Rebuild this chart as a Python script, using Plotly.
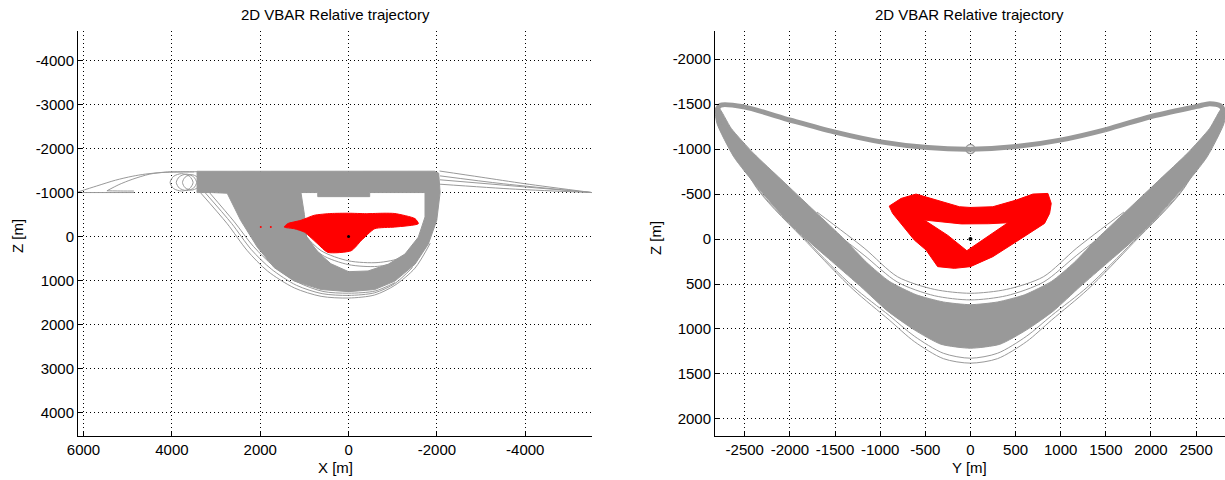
import plotly.graph_objects as go

GRAY = "rgb(153,153,153)"
RED = "rgb(255,0,0)"
FONT = "Liberation Sans, Arial, sans-serif"

# ---------------- Left panel (X-Z) ----------------
# dense grey region: outer contour, bridge, inner white hole (reverse direction), bridge back
L_dense_x = [3430, 2500, 1500, 500, -500, -1500, -1950, -2040, -2072, -1996, -1806, -1503, -1047, -592, 0,
             0, -440, -896, -1275, -1579, -1730, -1730, -478, -478, 698, 698, 1078, 1000, 950, 700, 400, 0,
             0, 622, 1230, 1685, 2064, 2444, 2748, 3100, 3430, 3430]
L_dense_z = [-1484, -1484, -1490, -1500, -1500, -1490, -1486, -1440, -1000, -369, 169, 631, 1015, 1207, 1255,
             800, 784, 631, 400, 15, -446, -1000, -1000, -907, -907, -1000, -1000, -500, 0, 350, 620, 800,
             1255, 1207, 1015, 707, 246, -369, -985, -1000, -1000, -1484]

# thin trajectory lines
L_arch_x = [6120, 5700, 5278, 4900, 4600, 4235, 3887, 3600, 3430]
L_arch_z = [-1016, -1150, -1281, -1370, -1420, -1455, -1465, -1470, -1475]
L_loop_x = [5470, 5200, 4900, 4500, 4100, 3800, 3500]
L_loop_z = [-1040, -1180, -1300, -1420, -1470, -1475, -1470]
L_spur_x = [5470, 5100, 4860]
L_spur_z = [-1040, -1035, -1035]
L_flat_x = [6120, 4850]
L_flat_z = [-1000, -1000]

L_ring1_x = [4040, 3960, 3780, 3600, 3520, 3600, 3780, 3960, 4040]
L_ring1_z = [-1230, -1370, -1430, -1370, -1230, -1090, -1035, -1090, -1230]
L_ring2_x = [3900, 3830, 3670, 3510, 3440, 3510, 3670, 3830, 3900]
L_ring2_z = [-1230, -1360, -1420, -1360, -1230, -1100, -1045, -1100, -1230]
L_ring3_x = [3760, 3700, 3560, 3420, 3360, 3420, 3560, 3700, 3760]
L_ring3_z = [-1230, -1350, -1410, -1350, -1230, -1110, -1055, -1110, -1230]

L_wedge1_x = [-2060, -3000, -4000, -5510]
L_wedge1_z = [-1490, -1350, -1200, -1000]
L_wedge2_x = [-2070, -3500, -5510]
L_wedge2_z = [-1380, -1200, -1000]
L_wedge3_x = [-2070, -3775, -5510]
L_wedge3_z = [-1190, -1077, -1000]
L_wedge4_x = [-2070, -5510]
L_wedge4_z = [-1290, -1000]

L_bo1_x = [3355, 2748, 2292, 1837, 1230, 622, 0, -592, -1047, -1503, -1850]
L_bo1_z = [-1000, -292, 323, 784, 1169, 1361, 1400, 1330, 1110, 720, 150]
L_bo2_x = [3250, 2650, 2200, 1750, 1180, 600, 0, -592, -1047, -1450]
L_bo2_z = [-1000, -300, 300, 740, 1110, 1300, 1340, 1280, 1070, 700]
L_bo3_x = [3150, 2600, 2150, 1700, 1150, 580, 0, -600, -1050]
L_bo3_z = [-1000, -350, 230, 670, 1040, 1250, 1290, 1240, 1050]

L_bi1_x = [1100, 622, 0, -668, -1199, -1579]
L_bi1_z = [-150, 323, 554, 592, 477, 169]
L_bi2_x = [1000, 600, 0, -650, -1150, -1500]
L_bi2_z = [0, 420, 640, 680, 560, 280]

# red blob
L_red_x = [1457, 1381, 1078, 774, 400, 0, -400, -800, -1047, -1503, -1579, -1047, -592, -288, -61, 470, 698, 1002, 1230, 1457]
L_red_z = [-215, -292, -369, -484, -523, -530, -520, -530, -523, -407, -292, -215, -177, 92, 323, 361, 169, -100, -177, -215]
L_reddots_x = [1988, 1760]
L_reddots_z = [-215, -215]

# ---------------- Right panel (Y-Z) ----------------
R_top_y = [-2826, -2770, -2511, -1993, -1511, -993, -474, 0, 474, 993, 1511, 1993, 2511, 2650, 2770, 2820]
R_top_z = [-1400, -1487, -1469, -1321, -1191, -1080, -1017, -999, -1025, -1100, -1220, -1360, -1475, -1505, -1480, -1400]

R_band_y = [-2826, -2808, -2622, -2363, -2104, -1808, -1511, -1215, -919, -622, -326, 0, 326, 622, 919, 1215, 1511,
            1808, 2104, 2363, 2622, 2808, 2826,
            2790, 2650, 2400, 2100, 1845, 1600, 1400, 1150, 900, 600, 300, 0, -300, -600, -900, -1150, -1400, -1600,
            -1845, -2100, -2400, -2650, -2790, -2826]
R_band_z = [-1432, -1284, -914, -581, -285, 11, 270, 529, 800, 1010, 1170, 1214, 1170, 1010, 800, 529, 270,
            11, -285, -581, -914, -1284, -1432,
            -1460, -1230, -950, -665, -423, -190, 0, 260, 470, 620, 700, 730, 700, 620, 470, 260, 0, -190,
            -423, -665, -950, -1230, -1460, -1432]

R_in1_y = [-1700, -1178, -807, -400, 0, 400, 807, 1178, 1700]
R_in1_z = [-300, 100, 420, 560, 603, 560, 420, 100, -300]
R_in2_y = [-1600, -1178, -807, -400, 0, 400, 807, 1178, 1600]
R_in2_z = [-150, 180, 480, 630, 677, 630, 480, 180, -150]
R_out1_y = [-2826, -2363, -1808, -1300, -900, -622, -300, 0, 300, 622, 900, 1300, 1808, 2363, 2820]
R_out1_z = [-1432, -560, 40, 560, 900, 1140, 1330, 1380, 1330, 1140, 900, 560, 40, -560, -1432]
R_out2_y = [-2826, -2363, -1808, -1300, -900, -622, -300, 0, 300, 622, 900, 1300, 1808, 2363, 2820]
R_out2_z = [-1432, -570, 25, 530, 850, 1080, 1270, 1325, 1270, 1080, 850, 530, 25, -570, -1432]

# red ring: outer contour, bridge, hole (reverse direction), bridge back
R_red_y = [-900, -770, -603, -381, -122, 0, 248, 507, 692, 858, 895, 877, 821, 507, 248, 0,
           -40, 415, 200, -100, -511, -250, -40,
           0, -178, -363, -492, -622, -862, -900]
R_red_z = [-366, -451, -500, -433, -359, -351, -359, -433, -500, -507, -396, -285, -174, 30, 196, 307,
           130, -181, -170, -168, -211, -40, 130,
           307, 326, 307, 122, 11, -285, -366]

R_start_y = [0]
R_start_z = [-1000]
ORIGIN = [0]

# tick labels
L_xticks = [6000, 4000, 2000, 0, -2000, -4000]
L_zticks = [-4000, -3000, -2000, -1000, 0, 1000, 2000, 3000, 4000]
R_yticks = [-2500, -2000, -1500, -1000, -500, 0, 500, 1000, 1500, 2000, 2500]
R_zticks = [-2000, -1500, -1000, -500, 0, 500, 1000, 1500, 2000]

fig = go.Figure()


def poly(x, y, color, xa, ya, shape="linear"):
    fig.add_trace(go.Scatter(x=x, y=y, mode="lines", fill="toself", fillcolor=color,
                             line=dict(color=color, width=1, shape=shape, smoothing=0.6),
                             xaxis=xa, yaxis=ya, hoverinfo="skip"))


def line(x, y, color, xa, ya, w=1):
    fig.add_trace(go.Scatter(x=x, y=y, mode="lines", line=dict(color=color, width=w, shape="spline", smoothing=0.8),
                             xaxis=xa, yaxis=ya, hoverinfo="skip"))


# left panel
for lx, lz in [(L_arch_x, L_arch_z), (L_loop_x, L_loop_z), (L_spur_x, L_spur_z), (L_flat_x, L_flat_z),
               (L_ring1_x, L_ring1_z), (L_ring2_x, L_ring2_z), (L_ring3_x, L_ring3_z),
               (L_wedge1_x, L_wedge1_z), (L_wedge2_x, L_wedge2_z), (L_wedge3_x, L_wedge3_z), (L_wedge4_x, L_wedge4_z),
               (L_bo1_x, L_bo1_z), (L_bo2_x, L_bo2_z), (L_bo3_x, L_bo3_z), (L_bi1_x, L_bi1_z), (L_bi2_x, L_bi2_z)]:
    line(lx, lz, GRAY, "x", "y")
poly(L_dense_x, L_dense_z, GRAY, "x", "y")
poly(L_red_x, L_red_z, RED, "x", "y", shape="spline")
fig.add_trace(go.Scatter(x=L_reddots_x, y=L_reddots_z, mode="markers", marker=dict(color=RED, size=2),
                         xaxis="x", yaxis="y", hoverinfo="skip"))
fig.add_trace(go.Scatter(x=ORIGIN, y=ORIGIN, mode="markers", marker=dict(color="black", size=3),
                         xaxis="x", yaxis="y", hoverinfo="skip"))

# right panel
poly(R_band_y, R_band_z, GRAY, "x2", "y2", shape="spline")
for ly, lz in [(R_in1_y, R_in1_z), (R_in2_y, R_in2_z), (R_out1_y, R_out1_z), (R_out2_y, R_out2_z)]:
    line(ly, lz, GRAY, "x2", "y2")
line(R_top_y, R_top_z, GRAY, "x2", "y2", w=5)
fig.add_trace(go.Scatter(x=R_start_y, y=R_start_z, mode="markers",
                         marker=dict(color="rgba(0,0,0,0)", size=9, line=dict(color=GRAY, width=1.5)),
                         xaxis="x2", yaxis="y2", hoverinfo="skip"))
poly(R_red_y, R_red_z, RED, "x2", "y2")
fig.add_trace(go.Scatter(x=ORIGIN, y=ORIGIN, mode="markers", marker=dict(color="black", size=4),
                         xaxis="x2", yaxis="y2", hoverinfo="skip"))

axis_common = dict(showline=True, linecolor="black", linewidth=1, mirror=False, ticks="inside", ticklen=4,
                   tickcolor="black", showgrid=True, gridcolor="black", griddash="1px,3px", gridwidth=1,
                   zeroline=False, automargin=False, title=None,
                   tickfont=dict(family=FONT, size=15, color="black"))

LXD = [78 / 1225, 592 / 1225]
RXD = [715 / 1225, 1.0]
YD = [1 - 436 / 480, 1 - 31 / 480]


def ann(text, x, y, angle=0):
    return dict(text=text, x=x, y=y, xref="paper", yref="paper", showarrow=False, textangle=angle,
                xanchor="center", yanchor="middle", font=dict(family=FONT, size=15, color="black"))


fig.update_layout(
    template="none",
    width=1225, height=480, margin=dict(l=0, r=0, t=0, b=0, pad=0),
    paper_bgcolor="white", plot_bgcolor="white", showlegend=False, hovermode=False,
    xaxis=dict(domain=LXD, range=[6125, -5510], tickvals=L_xticks, ticktext=[str(v) for v in L_xticks],
               anchor="y", **axis_common),
    yaxis=dict(domain=YD, range=[4539, -4676], tickvals=L_zticks, ticktext=[str(v) for v in L_zticks],
               anchor="x", **axis_common),
    xaxis2=dict(domain=RXD, range=[-2830, 2820], tickvals=R_yticks, ticktext=[str(v) for v in R_yticks],
                anchor="y2", **axis_common),
    yaxis2=dict(domain=YD, range=[2190, -2313], tickvals=R_zticks, ticktext=[str(v) for v in R_zticks],
                anchor="x2", **axis_common),
    annotations=[
        ann("2D VBAR Relative trajectory", (78 + 592) / 2 / 1225, 1 - 14 / 480),
        ann("2D VBAR Relative trajectory", (715 + 1225) / 2 / 1225, 1 - 14 / 480),
        ann("X [m]", (78 + 592) / 2 / 1225, 1 - 467 / 480),
        ann("Y [m]", (715 + 1225) / 2 / 1225, 1 - 467 / 480),
        ann("Z [m]", 17 / 1225, 1 - 236 / 480, -90),
        ann("Z [m]", 655 / 1225, 1 - 238 / 480, -90),
    ],
)

fig.write_html("out.html", config={"displayModeBar": False, "staticPlot": True},
               post_script="document.body.style.margin='0px';document.body.style.overflow='hidden';")
